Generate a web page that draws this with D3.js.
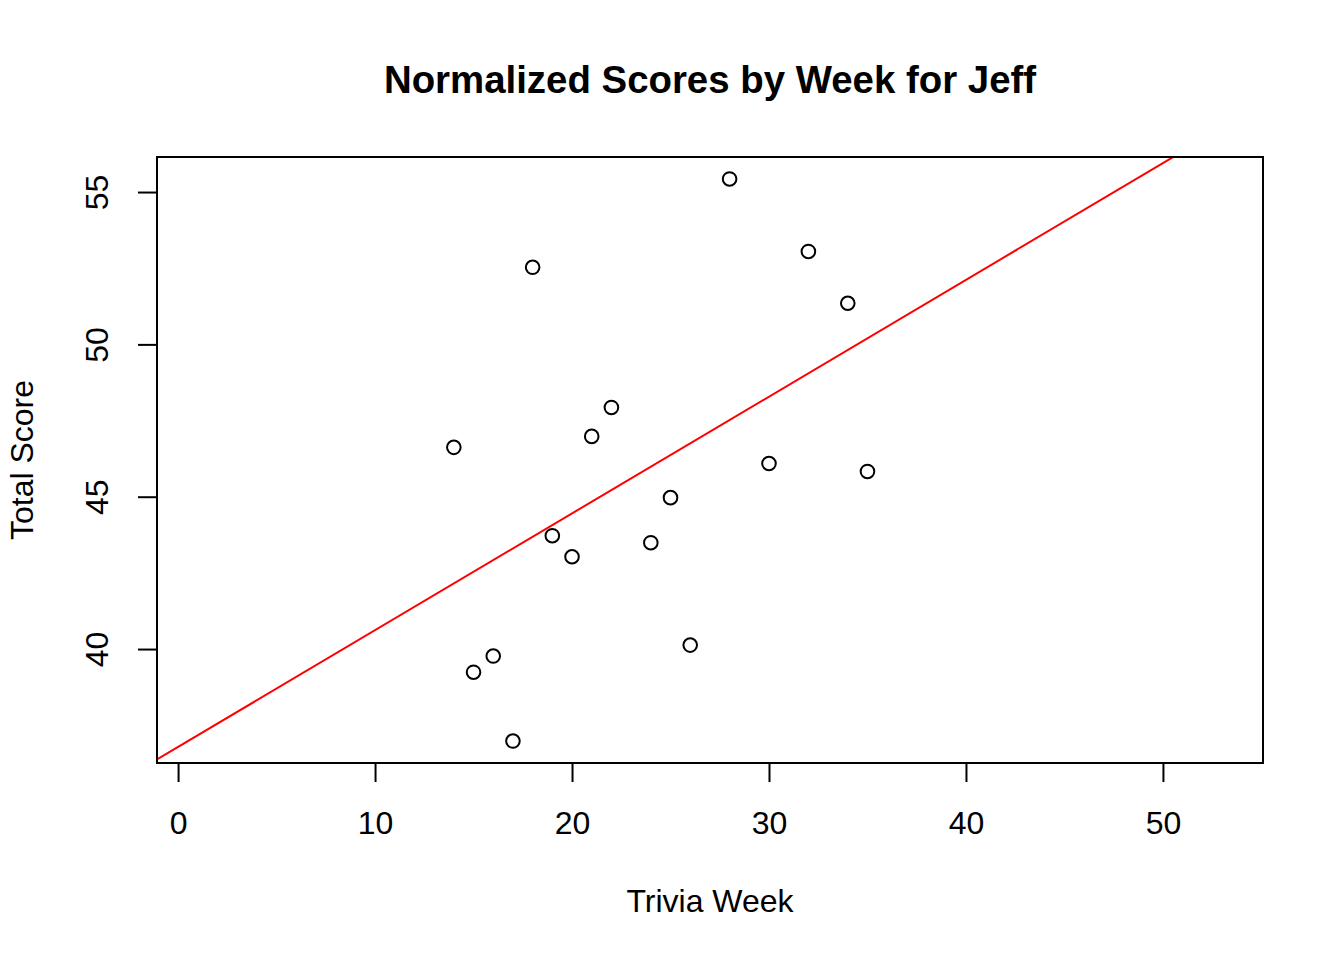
<!DOCTYPE html>
<html>
<head>
<meta charset="utf-8">
<script src="https://cdn.jsdelivr.net/npm/d3@7"></script>
<style>
  html, body { margin: 0; padding: 0; background: #fff; }
  svg text { font-family: "Liberation Sans", Arial, Helvetica, sans-serif; fill: #000; }
</style>
</head>
<body>
<svg id="chart" width="1344" height="960"></svg>
<script>
// Jeff's normalized trivia scores
const weeks  = [14, 15, 16, 17, 18, 19, 20, 21, 22, 24, 25, 26, 28, 30, 32, 34, 35];
const scores = [46.62, 39.24, 39.77, 36.98, 52.53, 43.72, 43.03, 46.98, 47.93,
                43.49, 44.97, 40.13, 55.43, 46.09, 53.05, 51.35, 45.83];
const xTicks = [0, 10, 20, 30, 40, 50];
const yTicks = [40, 45, 50, 55];

const W = 1344, H = 960;
const L = 157, R = 1263, T = 157, B = 763;
const svg = d3.select('#chart');

const x = d3.scaleLinear().domain([-1.07, 55.08]).range([L, R]);
const y = d3.scaleLinear().domain([36.26, 56.15]).range([B, T]);

// least squares fit, like abline(lm(score ~ week))
const mx = d3.mean(weeks), my = d3.mean(scores);
let sxy = 0, sxx = 0;
weeks.forEach((w, i) => { sxy += (w - mx) * (scores[i] - my); sxx += (w - mx) * (w - mx); });
const slope = sxy / sxx, icpt = my - slope * mx;

svg.append('text').attr('x', (L + R) / 2).attr('y', 93)
  .attr('text-anchor', 'middle').attr('font-size', 38.4).attr('font-weight', 'bold')
  .text('Normalized Scores by Week for Jeff');

// regression line clipped to the box
svg.append('clipPath').attr('id', 'box')
  .append('rect').attr('x', L).attr('y', T).attr('width', R - L).attr('height', B - T);
const [x0, x1] = x.domain();
svg.append('line').attr('clip-path', 'url(#box)')
  .attr('x1', x(x0)).attr('y1', y(icpt + slope * x0))
  .attr('x2', x(x1)).attr('y2', y(icpt + slope * x1))
  .attr('stroke', '#ff0000').attr('stroke-width', 2);

svg.selectAll('circle.pt').data(weeks).join('circle').attr('class', 'pt')
  .attr('cx', d => x(d)).attr('cy', (d, i) => y(scores[i])).attr('r', 6.8)
  .attr('fill', 'none').attr('stroke', '#000').attr('stroke-width', 2);

svg.append('rect').attr('x', L).attr('y', T).attr('width', R - L).attr('height', B - T)
  .attr('fill', 'none').attr('stroke', '#000').attr('stroke-width', 2);

// x axis
const xa = svg.append('g').attr('transform', `translate(0,${B})`)
  .call(d3.axisBottom(x).tickValues(xTicks).tickSize(19).tickPadding(0).tickFormat(d3.format('d')));
xa.select('.domain').attr('d', `M${x(0)},0H${x(50)}`).attr('stroke-width', 2);
xa.selectAll('.tick line').attr('stroke-width', 2);
xa.selectAll('.tick text').attr('font-size', 32).attr('dy', null).attr('y', 71);
svg.append('text').attr('x', (L + R) / 2).attr('y', 912).attr('text-anchor', 'middle')
  .attr('font-size', 32).text('Trivia Week');

// y axis
const ya = svg.append('g').attr('transform', `translate(${L},0)`)
  .call(d3.axisLeft(y).tickValues(yTicks).tickSize(19).tickFormat(d3.format('d')));
ya.select('.domain').attr('d', `M0,${y(40)}V${y(55)}`).attr('stroke-width', 2);
ya.selectAll('.tick line').attr('stroke-width', 2);
ya.selectAll('.tick text').attr('font-size', 32).attr('x', null).attr('dy', null)
  .attr('text-anchor', 'middle').attr('transform', 'translate(-49,0) rotate(-90)');
svg.append('text').attr('transform', `translate(33,${(T + B) / 2}) rotate(-90)`)
  .attr('text-anchor', 'middle').attr('font-size', 32).text('Total Score');
</script>
</body>
</html>
